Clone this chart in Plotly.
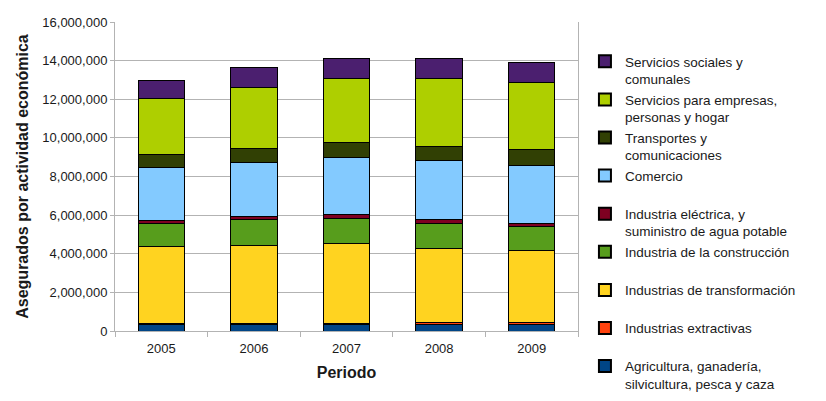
import plotly.graph_objects as go

# --- datos (asegurados por actividad económica) ---
periodos = ["2005", "2006", "2007", "2008", "2009"]

agricultura = [320000, 320000, 320000, 360000, 360000]
extractivas = [80000, 90000, 90000, 100000, 100000]
transformacion = [3970000, 4030000, 4100000, 3830000, 3700000]
construccion = [1210000, 1350000, 1330000, 1290000, 1270000]
electrica = [140000, 140000, 170000, 210000, 150000]
comercio = [2750000, 2820000, 2970000, 3020000, 3010000]
transportes = [690000, 680000, 760000, 760000, 790000]
servicios_empresas = [2870000, 3180000, 3350000, 3510000, 3510000]
servicios_sociales = [930000, 1010000, 1040000, 1010000, 990000]

# --- paleta ---
FONT = "Liberation Sans, Arial, sans-serif"
GRID = "#b3b3b3"
TEXT = "#1a1a1a"

series = [
    ("Agricultura, ganadería,<br>silvicultura, pesca y caza", agricultura, "#004586"),
    ("Industrias extractivas<br> ", extractivas, "#ff420e"),
    ("Industrias de transformación<br> ", transformacion, "#ffd320"),
    ("Industria de la construcción<br> ", construccion, "#579d1c"),
    ("Industria eléctrica, y<br>suministro de agua potable", electrica, "#7e0021"),
    ("Comercio<br> ", comercio, "#83caff"),
    ("Transportes y<br>comunicaciones", transportes, "#314004"),
    ("Servicios para empresas,<br>personas y hogar", servicios_empresas, "#aecf00"),
    ("Servicios sociales y<br>comunales", servicios_sociales, "#4b1f6f"),
]

fig = go.Figure()
for i, (nombre, valores, color) in enumerate(series):
    fig.add_trace(go.Bar(
        x=periodos, y=valores, name=nombre,
        legendgroup=str(i),
        marker=dict(color=color, line=dict(color="#000000", width=1)),
    ))

# la pagina tiene 8px de margen en el body, por eso 818x393.
# margen vertical 0 y el area del grafico via domain, asi la leyenda usa todo el alto
H = 393
fig.update_layout(
    width=818, height=H,
    barmode="stack", bargap=0.5,
    paper_bgcolor="white", plot_bgcolor="white",
    font=dict(family=FONT, color=TEXT, size=13),
    margin=dict(l=107, r=248, t=0, b=0, autoexpand=False),
    showlegend=True,
    legend=dict(
        traceorder="reversed", valign="top",
        x=1.015, xanchor="left", y=1 - 38 / H, yanchor="top",
        font=dict(size=13.5, family=FONT, color=TEXT),
        tracegroupgap=0, itemsizing="constant",
    ),
)

fig.update_xaxes(
    showline=True, linecolor=GRID, linewidth=1,
    ticks="outside", tickson="boundaries", ticklen=5, tickcolor=GRID,
    tickfont=dict(size=13), ticklabelstandoff=5,
    title=dict(text="<b>Periodo</b>", font=dict(size=16), standoff=12),
)

fig.update_yaxes(
    domain=[(H - 323) / H, (H - 14) / H],
    range=[0, 16000000], dtick=2000000, tickformat=",",
    showgrid=True, gridcolor=GRID, gridwidth=1,
    showline=True, linecolor=GRID, linewidth=1, mirror=True,
    ticks="outside", ticklen=4, tickcolor=GRID,
    zeroline=False,
    tickfont=dict(size=13),
    title=dict(text="<b>Asegurados por actividad económica</b>", font=dict(size=16), standoff=9),
)

fig.write_html("out.html")
